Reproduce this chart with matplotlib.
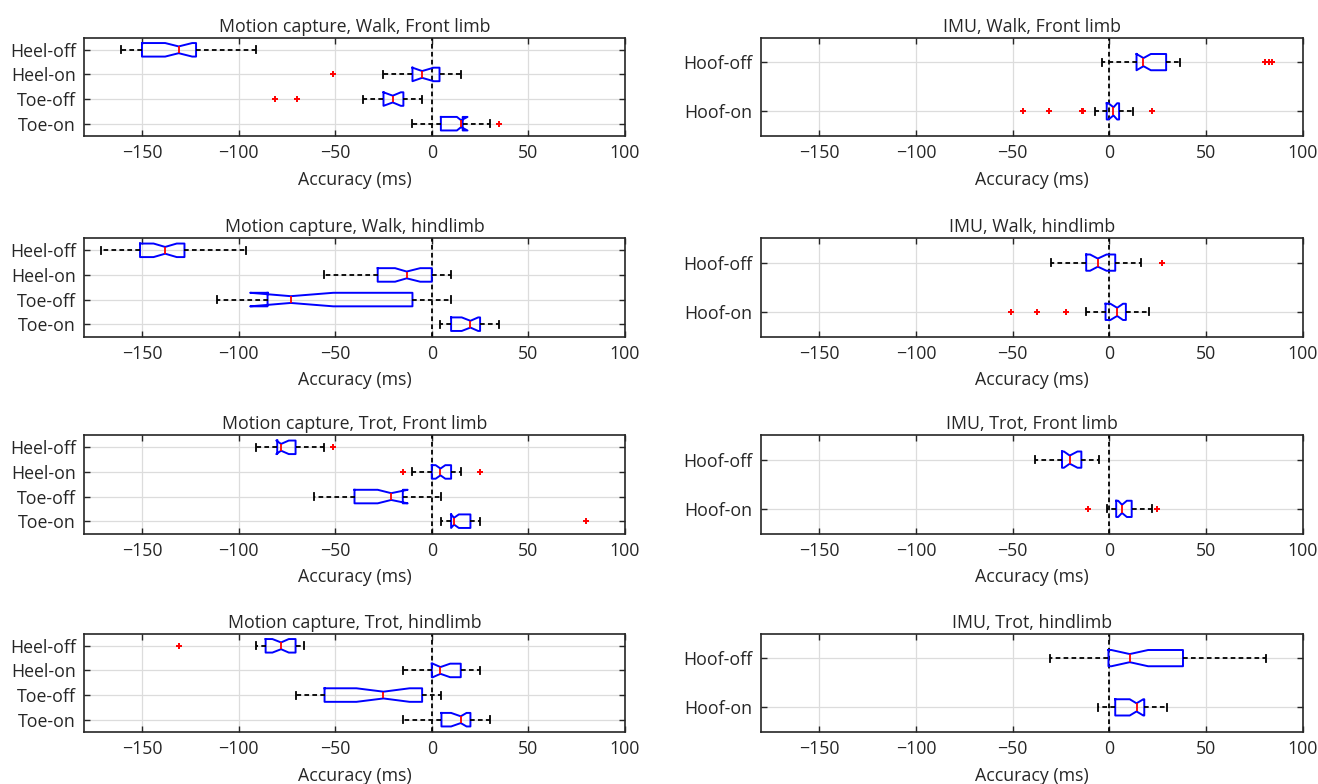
import matplotlib
matplotlib.use('Agg')
import matplotlib.pyplot as plt

plt.rcParams['font.family'] = ['Open Sans', 'DejaVu Sans']

# ---------------- data ----------------
mc_labels = ['Heel-off', 'Heel-on', 'Toe-off', 'Toe-on']
imu_labels = ['Hoof-off', 'Hoof-on']
x_ticks = [-150, -100, -50, 0, 50, 100]
x_limits = [-180, 100]

# Motion capture, Walk, Front limb
mcwf_whislo = [-161, -25.5, -35.5, -10]
mcwf_q1 = [-150, -10, -25, 4.7]
mcwf_cilo = [-138, -10, -25, 13]
mcwf_med = [-131, -5, -20.2, 15.2]
mcwf_cihi = [-124, 1, -16, 18.5]
mcwf_q3 = [-122, 4, -14.7, 16]
mcwf_whishi = [-91, 15, -5.2, 30]
mcwf_fliers = [[], [-51], [-81, -70], [35]]

# Motion capture, Walk, hindlimb
mcwh_whislo = [-171, -56, -111, 4]
mcwh_q1 = [-151, -28, -85, 10]
mcwh_cilo = [-144, -19, -94, 15.5]
mcwh_med = [-138, -13, -73, 20]
mcwh_cihi = [-132, -6, -51, 24]
mcwh_q3 = [-128, 0, -10, 25]
mcwh_whishi = [-96, 10, 10, 35]
mcwh_fliers = [[], [], [], []]

# Motion capture, Trot, Front limb
mctf_whislo = [-91, -10, -61, 5]
mctf_q1 = [-80, 0, -40, 10]
mctf_cilo = [-80.5, 2, -28, 10]
mctf_med = [-78, 4.5, -21, 11.5]
mctf_cihi = [-74, 7, -12.5, 14]
mctf_q3 = [-70.5, 10, -15, 20]
mctf_whishi = [-56, 15, 5, 25]
mctf_fliers = [[-51], [-15, 25], [], [80]]

# Motion capture, Trot, hindlimb
mcth_whislo = [-91, -15, -70.5, -15]
mcth_q1 = [-86, 0, -55.5, 5]
mcth_cilo = [-82.5, 0.5, -39, 10]
mcth_med = [-78, 4.5, -25, 15]
mcth_cihi = [-74, 9.5, -11.5, 18]
mcth_q3 = [-70.5, 15, -5, 20]
mcth_whishi = [-66, 25, 5, 30]
mcth_fliers = [[-131], [], [], []]

# IMU, Walk, Front limb
imwf_whislo = [-4, -7.7]
imwf_q1 = [14, -1.4]
imwf_cilo = [14, -0.5]
imwf_med = [17.6, 2.1]
imwf_cihi = [21.4, 4]
imwf_q3 = [29.3, 5]
imwf_whishi = [36.5, 12.1]
imwf_fliers = [[80.5, 82.5, 84], [-44.5, -31, -14.3, -13.4, 21.9]]

# IMU, Walk, hindlimb
imwh_whislo = [-30, -12]
imwh_q1 = [-12, -2]
imwh_cilo = [-10, 0.5]
imwh_med = [-6, 4]
imwh_cihi = [-1.5, 7]
imwh_q3 = [3, 8.5]
imwh_whishi = [16.5, 20.5]
imwh_fliers = [[27], [-51, -37.5, -22.5]]

# IMU, Trot, Front limb
imtf_whislo = [-38.5, -1]
imtf_q1 = [-24.5, 3.5]
imtf_cilo = [-23.5, 4.5]
imtf_med = [-20.5, 6.5]
imtf_cihi = [-16.5, 9]
imtf_q3 = [-14.5, 11.5]
imtf_whishi = [-5.5, 22]
imtf_fliers = [[], [-11, 24.5]]

# IMU, Trot, hindlimb
imth_whislo = [-30.5, -6]
imth_q1 = [-0.5, 3]
imth_cilo = [1, 10.5]
imth_med = [10.5, 14]
imth_cihi = [20, 17.5]
imth_q3 = [38, 18]
imth_whishi = [81, 29.5]
imth_fliers = [[], []]

# ---------------- drawing ----------------
fig = plt.figure(figsize=(13.18, 7.84), dpi=100)

col_x = [84 / 1318, 761 / 1318]
col_w = [541 / 1318, 542 / 1318]
row_top_px = [37.5, 238, 435, 633.5]
ax_h_px = 98.5

DARK = '#262626'
FS = 12.8
DASH = (0, (2.6, 1.8))


def draw(ax, title, labels, whislo, q1, cilo, med, cihi, q3, whishi, fliers,
         width, capw):
    n = len(labels)
    stats = []
    for i in range(n):
        stats.append(dict(med=med[i], q1=q1[i], q3=q3[i], whislo=whislo[i],
                          whishi=whishi[i], cilo=cilo[i], cihi=cihi[i],
                          fliers=fliers[i], label=labels[i]))
    pos = list(range(1, n + 1))
    ax.grid(True, color='#dcdcdc', linewidth=0.9, zorder=0)
    ax.set_axisbelow(True)
    ax.axvline(0, color='black', linestyle=DASH, linewidth=1.3, zorder=1)
    ax.bxp(stats, positions=pos, widths=width, capwidths=capw,
           orientation='horizontal', shownotches=True, patch_artist=False,
           boxprops=dict(color='#0000ff', linewidth=1.4),
           medianprops=dict(color='#ff0000', linewidth=1.3),
           whiskerprops=dict(color='black', linestyle=DASH, linewidth=1.3),
           capprops=dict(color='black', linewidth=1.3),
           flierprops=dict(marker='+', markeredgecolor='#ff0000',
                           markerfacecolor='#ff0000', markersize=4,
                           markeredgewidth=1.4, linestyle='none'),
           zorder=3)
    ax.set_xlim(*x_limits)
    ax.set_ylim(n + 0.5, 0.5)
    ax.set_xticks(x_ticks)
    ax.set_xticklabels(['\u2212' + str(-t) if t < 0 else str(t) for t in x_ticks])
    ax.set_yticks(pos)
    ax.set_yticklabels(labels)
    ax.tick_params(direction='in', top=True, right=True, length=4,
                   width=1, color=DARK, labelcolor=DARK, labelsize=FS)
    ax.tick_params(axis='x', pad=6)
    ax.tick_params(axis='y', pad=6)
    for s in ax.spines.values():
        s.set_color(DARK)
        s.set_linewidth(1.2)
    ax.set_title(title, fontsize=FS, color=DARK, pad=4)
    ax.set_xlabel('Accuracy (ms)', fontsize=FS, color=DARK, labelpad=6)


panels_left = [
    ('Motion capture, Walk, Front limb', mcwf_whislo, mcwf_q1, mcwf_cilo, mcwf_med, mcwf_cihi, mcwf_q3, mcwf_whishi, mcwf_fliers),
    ('Motion capture, Walk, hindlimb', mcwh_whislo, mcwh_q1, mcwh_cilo, mcwh_med, mcwh_cihi, mcwh_q3, mcwh_whishi, mcwh_fliers),
    ('Motion capture, Trot, Front limb', mctf_whislo, mctf_q1, mctf_cilo, mctf_med, mctf_cihi, mctf_q3, mctf_whishi, mctf_fliers),
    ('Motion capture, Trot, hindlimb', mcth_whislo, mcth_q1, mcth_cilo, mcth_med, mcth_cihi, mcth_q3, mcth_whishi, mcth_fliers),
]
panels_right = [
    ('IMU, Walk, Front limb', imwf_whislo, imwf_q1, imwf_cilo, imwf_med, imwf_cihi, imwf_q3, imwf_whishi, imwf_fliers),
    ('IMU, Walk, hindlimb', imwh_whislo, imwh_q1, imwh_cilo, imwh_med, imwh_cihi, imwh_q3, imwh_whishi, imwh_fliers),
    ('IMU, Trot, Front limb', imtf_whislo, imtf_q1, imtf_cilo, imtf_med, imtf_cihi, imtf_q3, imtf_whishi, imtf_fliers),
    ('IMU, Trot, hindlimb', imth_whislo, imth_q1, imth_cilo, imth_med, imth_cihi, imth_q3, imth_whishi, imth_fliers),
]

for r in range(4):
    y0 = 1 - (row_top_px[r] + ax_h_px) / 784
    h = ax_h_px / 784
    axl = fig.add_axes([col_x[0], y0, col_w[0], h])
    draw(axl, panels_left[r][0], mc_labels, *panels_left[r][1:], width=0.55, capw=0.28)
    axr = fig.add_axes([col_x[1], y0, col_w[1], h])
    draw(axr, panels_right[r][0], imu_labels, *panels_right[r][1:], width=0.33, capw=0.14)

fig.savefig('out.png', dpi=100)
